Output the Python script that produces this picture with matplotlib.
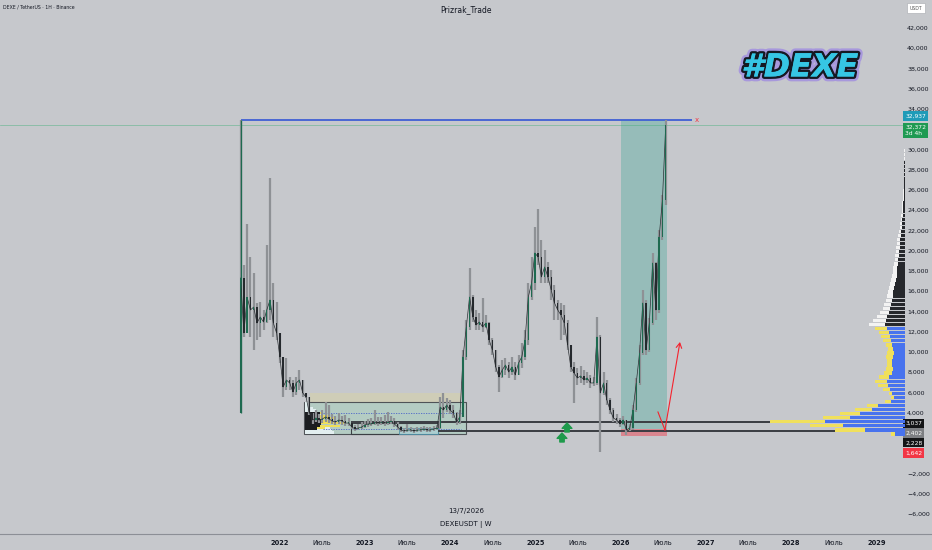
import matplotlib
matplotlib.use('Agg')
import matplotlib.pyplot as plt
import matplotlib.patheffects as pe
from matplotlib.patches import Rectangle
from matplotlib.lines import Line2D
import numpy as np
import pandas as pd

# ---------------- data ----------------
start_date = '2021-07-19'          # first bi-weekly candle
first_open = 3950
closes = [17300, 11870, 15400, 14140, 14430, 12850, 13450, 12950, 14140, 15130,
          12850, 11870, 9500, 6530, 7220, 6930, 6040, 6930, 7220, 5940,
          5540, 3960, 3270, 3470, 3270, 3370, 3570, 3370, 3170, 3070,
          3270, 3170, 2970, 2970, 2580, 2380, 2480, 2580, 2780, 2880,
          2880, 3070, 2970, 3070, 2970, 3070, 3170, 2880, 2580, 2280,
          2180, 2280, 2280, 2180, 2280, 2280, 2380, 2280, 2280, 2380,
          2480, 4550, 4260, 4750, 4260, 3960, 3070, 3570, 9500, 12460,
          15420, 13450, 12660, 12950, 12460, 12850, 11170, 10190, 8510, 7520,
          8210, 8700, 8010, 8510, 7720, 8900, 9500, 11170, 15420, 16810,
          19770, 19380, 17400, 18390, 17400, 16110, 14830, 14140, 13640, 12850,
          10680, 8510, 7910, 7420, 7620, 7220, 7420, 6930, 6930, 11470,
          5940, 6930, 5250, 4260, 3470, 3270, 2880, 3270, 2280, 2480,
          4260, 6930, 9890, 14830, 10190, 12850, 18780, 14140, 21350, 25010,
          32372]
highs = [32937, 18580, 22640, 19380, 17790, 14830, 14930, 14140, 20560, 27180,
         16810, 14930, 11670, 9500, 9400, 7520, 7220, 7520, 8210, 6930,
         5940, 5540, 3960, 4260, 3860, 4260, 5050, 4750, 3860, 3670,
         3960, 3670, 3760, 3470, 2880, 2780, 2880, 3070, 3170, 3370,
         3470, 4260, 3570, 3570, 3760, 4060, 3670, 3470, 3070, 2680,
         2480, 2880, 2580, 2480, 2580, 2580, 2680, 2580, 2580, 2680,
         2780, 5540, 5940, 5440, 5250, 4750, 4060, 4260, 10190, 13150,
         18290, 15620, 14140, 13840, 15320, 13640, 12950, 11370, 10190, 8700,
         9200, 9400, 9000, 9500, 9000, 9690, 10880, 12160, 16810, 19380,
         22340, 24120, 21050, 20070, 18880, 18090, 16610, 15130, 14830, 14630,
         13150, 10680, 9000, 8410, 8610, 8210, 8010, 7720, 7520, 13450,
         11670, 8010, 7220, 5440, 4450, 3860, 3470, 3670, 3070, 2880,
         4750, 7420, 10680, 16110, 15130, 13350, 19770, 18880, 22040, 25500,
         32937]
lows = [3950, 11500, 11870, 11470, 10190, 11170, 11470, 12160, 12850, 13150,
        11470, 11170, 8900, 5540, 6230, 6230, 5540, 5740, 6230, 5540,
        5440, 3760, 2880, 3070, 2970, 2970, 3070, 2970, 2880, 2780,
        2880, 2780, 2680, 2680, 2380, 2180, 2280, 2380, 2480, 2580,
        2680, 2780, 2680, 2780, 2680, 2780, 2880, 2580, 2280, 2090,
        1990, 2090, 2090, 1990, 2090, 2090, 2180, 2090, 2090, 2180,
        2280, 2380, 3470, 4060, 3860, 3470, 2780, 2880, 3570, 9200,
        12160, 12950, 12160, 12160, 11970, 12360, 10680, 9690, 8010, 6040,
        7420, 7720, 7420, 7720, 7220, 8010, 8410, 9200, 10680, 15130,
        16110, 18580, 16810, 16810, 16810, 15130, 13150, 13150, 11170, 11670,
        10190, 8010, 4950, 6730, 6930, 6730, 6930, 6430, 6630, 6730,
        110, 5740, 4750, 3860, 3070, 2880, 2580, 2780, 1790, 2180,
        2280, 4060, 6730, 9690, 9690, 9990, 12660, 13150, 13840, 21050,
        24510]

price_ticks = [42000, 40000, 38000, 36000, 34000, 30000, 28000, 26000, 24000,
               22000, 20000, 18000, 16000, 14000, 12000, 10000, 8000, 6000,
               4000, -2000, -4000, -6000]
year_labels = ['2022', '2023', '2024', '2025', '2026', '2027', '2028', '2029']
mid_label = 'Июль'

# key levels / position tool
target_price = 32937
current_price = 32372
level_top = 3037
level_bot = 2228
entry_price = 2402
stop_price = 1642
target_line_start = 2021.546
target_line_end = 2026.837
target_x_mark = 2026.895
pos_start, pos_end = 2026.006, 2026.545
level_top_start = 2022.839
level_bot_start = 2023.859

# range box
range_x0, range_x1 = 2022.288, 2024.188
range_lo, range_hi = 1887, 5049
range_cap_x0, range_cap_x1 = 2022.359, 2024.129
range_cap_hi = 5938
inner_x0, inner_x1 = 2022.839, 2023.859
inner_lo, inner_hi = 1887, 2975
small_x0 = 2023.401
small_hi = 2481
vah, val = 3983, 2400

# range-box volume profile (widths in years)
bp_levels = [2050, 2250, 2450, 2700, 2950, 3200, 3450, 3700, 3950, 4200, 4450, 4700, 4950]
bp_white = [0.340, 0.320, 0.300, 0.280, 0.260, 0.240, 0.211, 0.188, 0.164, 0.129, 0.094, 0.059, 0.035]
bp_yellow = [0, 0, 0.234, 0.410, 0.469, 0.305, 0.352, 0.281, 0.211, 0, 0, 0, 0]
bp_black = [0, 0, 0.141, 0.176, 0.188, 0.188, 0.176, 0.176, 0.176, 0, 0, 0, 0]

# visible-range volume profile
vp_start, vp_step = 1900, 400
vp_up = [10, 40, 62, 80, 55, 45, 33, 27, 14, 11, 13, 15, 17, 18, 16, 13, 12, 13, 13, 12,
         11, 12, 13, 14, 15, 16, 18,
         20, 19, 18, 16, 15, 14, 13, 12, 12, 11, 10, 9, 8, 8, 8, 7, 7, 6, 6, 5,
         5, 5, 4, 4, 3, 3, 3, 2, 2, 2, 2, 1.5, 1.5, 1.5, 1, 1, 1, 1, 1, 1, 1, 0.5, 0.5, 0.5]
vp_total = [14, 70, 95, 135, 82, 65, 50, 38, 20, 14, 16, 22, 27, 30, 26, 21, 19, 18, 18, 19,
            18, 17, 19, 22, 24, 26, 30,
            36, 32, 28, 25, 22, 21, 19, 18, 17, 16, 15, 14, 13, 12, 12, 11, 10, 10, 9, 9,
            8, 8, 7, 6, 5, 5, 4, 4, 3, 3, 3, 2, 2, 2, 1.5, 1.5, 1.5, 1.5, 1.5, 1.5, 1.5, 1, 1, 1]
vp_va_top = 12500

# ---------------- figure ----------------
BG = '#c6c8cc'
W, H = 932, 550
fig = plt.figure(figsize=(W / 100, H / 100), dpi=100, facecolor=BG)
ax = fig.add_axes([0, 16 / H, 903 / W, 534 / H])
ax.set_facecolor(BG)
YLIM = (-7993, 44766)
XLIM = (2018.7245, 2029.3107)
ax.set_xlim(*XLIM)
ax.set_ylim(*YLIM)

dates = pd.date_range(start_date, periods=len(closes), freq='14D')
xd = np.asarray(dates.year + (dates.dayofyear - 1) / np.where(dates.is_leap_year, 366, 365), float)
c = np.array(closes, float)
o = np.r_[first_open, c[:-1]]
hi = np.maximum(np.array(highs, float), np.maximum(o, c))
lo = np.minimum(np.array(lows, float), np.minimum(o, c))
up = c >= o

# range box
ax.add_patch(Rectangle((range_cap_x0, range_hi), range_cap_x1 - range_cap_x0, range_cap_hi - range_hi,
                       facecolor='#cfcdb7', edgecolor='none', zorder=1))
ax.add_patch(Rectangle((range_x0, range_lo), range_x1 - range_x0, range_hi - range_lo,
                       facecolor='#b4ccc3', edgecolor='#4f5357', lw=0.8, zorder=1.2))
ax.barh(bp_levels, bp_white, height=230, left=range_x0 + 0.01, color='#e3eff0', lw=0, zorder=1.5)
ax.barh(bp_levels, bp_yellow, height=210, left=range_x0 + 0.01, color='#efe05a', lw=0, zorder=1.6)
ax.barh(bp_levels, bp_black, height=250, left=range_x0 + 0.01, color='#1b1d20', lw=0, zorder=1.7)
ax.hlines([vah, val], range_cap_x0 + 0.15, range_cap_x1, colors='#4a63c8', linestyles=(0, (1.5, 1.5)), lw=0.6, zorder=1.8)
ax.add_patch(Rectangle((inner_x0, inner_lo), inner_x1 - inner_x0, inner_hi - inner_lo,
                       facecolor='none', edgecolor='#3c3f44', lw=0.8, zorder=2))
ax.add_patch(Rectangle((small_x0, inner_lo), inner_x1 - small_x0, small_hi - inner_lo,
                       facecolor='#a9cfd4', edgecolor='#4a8fa8', lw=0.7, alpha=0.8, zorder=2))

# position tool
ax.add_patch(Rectangle((pos_start, entry_price), pos_end - pos_start, target_price - entry_price,
                       facecolor='#089981', alpha=0.25, edgecolor='none', zorder=1))
ax.add_patch(Rectangle((pos_start, stop_price), pos_end - pos_start, entry_price - stop_price,
                       facecolor='#f23645', alpha=0.45, edgecolor='none', zorder=1))

# key horizontal levels
ax.hlines(level_top, level_top_start, XLIM[1], colors='#3a3d42', lw=1.4, zorder=2.5)
ax.hlines(level_bot, level_bot_start, XLIM[1], colors='#3a3d42', lw=1.4, zorder=2.5)
ax.axhline(current_price, color='#3fae78', lw=0.5, alpha=0.6, zorder=2)
ax.hlines(target_price, target_line_start, target_line_end, colors='#3f5fd4', lw=1.3, zorder=3)
ax.text(target_x_mark, target_price, 'x', color='#f23645', fontsize=5, ha='center', va='center', zorder=6)

# candles: wide grey range bars + thin dark bodies
ax.vlines(xd, lo, hi, color='#8e9195', lw=1.6, zorder=4)
ax.vlines(xd[:1], lo[:1], hi[:1], color='#1e6a50', lw=0.9, zorder=4.1)
body_h = np.maximum(np.abs(c - o), 90)
ax.bar(xd, body_h, bottom=np.minimum(o, c), width=0.016,
       color=np.where(up, '#1e6a50', '#25292d'), linewidth=0, zorder=5)
ax.plot(xd, c, color='#2a2e32', lw=0.5, zorder=4.5)

# arrows
green_arrow = dict(arrowstyle='simple,head_length=0.55,head_width=1.0,tail_width=0.45',
                   color='#1e9a4b', mutation_scale=7, shrinkA=0, shrinkB=0)
ax.annotate('', xy=(2025.372, 2974), xytext=(2025.372, 2085), arrowprops=green_arrow, zorder=6)
ax.annotate('', xy=(2025.313, 1986), xytext=(2025.313, 1097), arrowprops=green_arrow, zorder=6)
ax.plot([2026.438, 2026.520], [4061, 2282], color='#f5222d', lw=0.8, zorder=6)
ax.annotate('', xy=(2026.696, 10977), xytext=(2026.520, 2282),
            arrowprops=dict(arrowstyle='->,head_length=0.35,head_width=0.2', color='#f5222d', lw=0.8,
                            shrinkA=0, shrinkB=0), zorder=6)

# axes styling
for s in ax.spines.values():
    s.set_visible(False)
ax.yaxis.tick_right()
ax.set_yticks(price_ticks)
ax.set_yticklabels([f'{t:,}'.replace('-', '−') if t < 0 else f'{t:,}' for t in price_ticks])
ax.tick_params(axis='y', length=0, pad=3, labelsize=4.5, labelcolor='#131722')

xt, xl = [], []
for lab in year_labels:
    yv = int(lab)
    xt.append(yv); xl.append(lab)
    if yv + 0.496 < XLIM[1] - 0.2:
        xt.append(yv + 0.496); xl.append(mid_label)
ax.set_xticks(xt)
xlbls = ax.set_xticklabels(xl)
for l in xlbls:
    if l.get_text() != mid_label:
        l.set_fontweight('bold')
ax.tick_params(axis='x', length=0, pad=4, labelsize=4.8, labelcolor='#131722')

# price tags
def tag(txt, val, fc, dy):
    ax.annotate(txt, xy=(1, val), xycoords=ax.get_yaxis_transform(), xytext=(1.5, dy),
                textcoords='offset points', ha='left', va='center', fontsize=4.3, color='white',
                bbox=dict(boxstyle='square,pad=0.35', fc=fc, ec='none'), zorder=10, annotation_clip=False)

tag(f'{target_price:,}', target_price, '#1f9bb8', 2.7)
ax.annotate(f'{current_price:,}\n3d 4h', xy=(1, current_price), xycoords=ax.get_yaxis_transform(),
            xytext=(1.5, -3.4), textcoords='offset points', ha='left', va='center', fontsize=4.3,
            color='white', linespacing=1.25, bbox=dict(boxstyle='square,pad=0.35', fc='#1f9a52', ec='none'),
            zorder=10, annotation_clip=False)
tag(f'{level_top:,}', level_top, '#131416', -1.0)
tag(f'{entry_price:,}', entry_price, '#7d7f83', -3.0)
tag(f'{level_bot:,}', level_bot, '#131416', -8.9)
tag(f'{stop_price:,}', stop_price, '#f23645', -11.9)

# volume profile
vp = fig.add_axes([755 / W, 16 / H, 150 / W, 534 / H])
vp.patch.set_alpha(0)
vp.set_xlim(150, 0)
vp.set_ylim(*YLIM)
vp.axis('off')
lv = vp_start + vp_step * np.arange(len(vp_up))
va = lv < vp_va_top
vp.barh(lv, vp_total, height=vp_step * 0.85, color=np.where(va, '#f0e05c', '#f3f3f3'), lw=0)
vp.barh(lv, vp_up, height=vp_step * 0.85, color=np.where(va, '#4873ee', '#26282c'), lw=0)

# texts
fig.text(3 / W, 1 - 7 / H, 'DEXE / TetherUS · 1H · Binance', fontsize=3.3, color='#131722', va='center')
fig.text(466 / W, 1 - 10 / H, 'Prizrak_Trade', fontsize=5.5, color='#131722', ha='center', va='center')
fig.text(466 / W, 1 - 511 / H, '13/7/2026', fontsize=5, color='#131722', ha='center', va='center')
fig.text(466 / W, 1 - 524 / H, 'DEXEUSDT | W', fontsize=5, color='#131722', ha='center', va='center')
fig.text(916 / W, 1 - 8 / H, 'USDT', fontsize=3.3, color='#555', ha='center', va='center',
         bbox=dict(boxstyle='square,pad=0.6', fc='white', ec='#b0b3b8', lw=0.5))
logo = fig.text(800 / W, 1 - 68 / H, '#DEXE', fontsize=23, fontweight='heavy', style='italic',
                color='#36c6e4', ha='center', va='center', family='DejaVu Sans')
logo.set_path_effects([pe.withStroke(linewidth=7, foreground='#8f72ea', alpha=0.55),
                       pe.withStroke(linewidth=3.5, foreground='#151923'), pe.Normal()])

fig.add_artist(Line2D([0, 1], [16 / H, 16 / H], transform=fig.transFigure, color='#8c8f96', lw=0.8))

fig.savefig('out.png', dpi=100, facecolor=BG)
